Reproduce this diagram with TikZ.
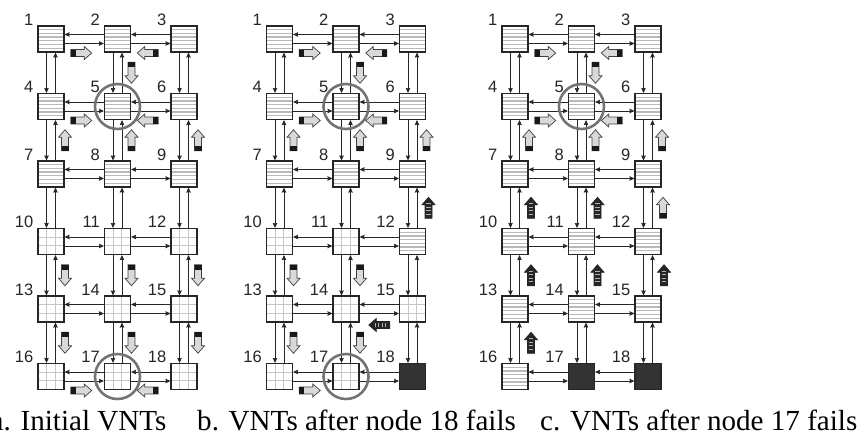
\documentclass[tikz,border=0pt]{standalone}
\usepackage{fontspec}
\setmainfont{Liberation Serif}
\newfontfamily\labelfont{Liberation Sans}
\usetikzlibrary{positioning, arrows.meta, calc}

\begin{document}
\begin{tikzpicture}[
    x=1pt, y=-1pt,
    vlabel/.style={font=\labelfont\fontsize{16.5}{16.5}\selectfont, text=black!85, inner sep=0pt, xshift=-4pt},
    vnt/.style={draw=black!85, line width=1.1pt, rectangle, minimum size=26pt, inner sep=0pt, fill=white,
        label={[vlabel]north west:#1}},
    kind0/.style={path picture={
        \foreach \s in {1,...,6}
            \draw[gray!55, line width=1.3pt] ([yshift=-\s*3.71pt]path picture bounding box.north west)
                -- ([yshift=-\s*3.71pt]path picture bounding box.north east);}},
    kind1/.style={path picture={
        \foreach \s in {1,2} {
            \draw[gray!45, line width=0.9pt] ($(path picture bounding box.north west)!\s/3!(path picture bounding box.south west)$)
                -- ($(path picture bounding box.north east)!\s/3!(path picture bounding box.south east)$);
            \draw[gray!45, line width=0.9pt] ($(path picture bounding box.north west)!\s/3!(path picture bounding box.north east)$)
                -- ($(path picture bounding box.south west)!\s/3!(path picture bounding box.south east)$);}}},
    kind2/.style={fill=black!80},
    link/.style={-{Stealth[length=5pt, width=4.5pt, inset=0.5pt]}, line width=0.9pt, black!85},
    ring/.style={circle, draw=black!55, line width=2.6pt, minimum size=45pt, inner sep=0pt},
    caption/.style={font=\fontsize{29.1}{32}\selectfont, inner sep=0pt, anchor=base west},
    vntshift/.pic={
        \filldraw[fill=gray!30, draw=black!75, line width=0.7pt]
            (-10.5,-3.5) -- (3,-3.5) -- (3,-6.5) -- (10.5,0) -- (3,6.5) -- (3,3.5) -- (-10.5,3.5) -- cycle;
        \fill[black!90] (-10.5,-3.5) rectangle (-5.5,3.5);
    },
    vntshiftdark/.pic={
        \filldraw[fill=black!85, draw=black!85, line width=0.7pt]
            (-10.5,-3.5) -- (3,-3.5) -- (3,-6.5) -- (10.5,0) -- (3,6.5) -- (3,3.5) -- (-10.5,3.5) -- cycle;
        \foreach \s in {-6.5,-3,0.5,4} \draw[gray!60, line width=0.8pt] (\s,-2.3) -- (\s,2.3);
    }
]

    \useasboundingbox (0,0) rectangle (861,437);

    \foreach \q/\p/\px in {1/a/51, 2/b/279.5, 3/c/515} {
        \foreach \n in {1,...,18} {
            \pgfmathtruncatemacro\row{(\n-1)/3}
            \pgfmathtruncatemacro\col{\n-1-3*\row}
            \pgfmathtruncatemacro\k{((\q==2 && \n==18) || (\q==3 && \n>16)) ? 2 : ((\n<10 || \q==3 || (\q==2 && \n==12)) ? 0 : 1)}
            \node[vnt=\n, kind\k] (\p\n) at ({\px+66.5*\col}, {39+67.5*\row}) {};
        }
    }

    \foreach \p in {a,b,c} {
        \foreach \lft/\rgt in {1/2,2/3,4/5,5/6,7/8,8/9,10/11,11/12,13/14,14/15,16/17,17/18} {
            \draw[link] ([yshift=4.5pt]\p\rgt.west) -- ([yshift=4.5pt]\p\lft.east);
            \draw[link] ([yshift=-4.5pt]\p\lft.east) -- ([yshift=-4.5pt]\p\rgt.west);
        }
        \foreach \na in {1,...,15} {
            \pgfmathtruncatemacro\nb{\na+3}
            \draw[link] ([xshift=-4.5pt]\p\na.south) -- ([xshift=-4.5pt]\p\nb.north);
            \draw[link] ([xshift=4.5pt]\p\nb.north) -- ([xshift=4.5pt]\p\na.south);
        }
    }

    \foreach \v in {a5, a17, b5, b17, c5}
        \node[ring] (ring\v) at (\v) {};

    \foreach \p in {a,b,c} {
        \pic at ($(\p1)!0.5!(\p2)+(-3,14)$) {vntshift};
        \pic[rotate=180] at ($(\p2)!0.5!(\p3)+(-3,14)$) {vntshift};
        \pic[rotate=-90] at ($(\p2)!0.5!(\p5)+(14,0)$) {vntshift};
        \pic at ($(\p4)!0.5!(\p5)+(-3,14)$) {vntshift};
        \pic[rotate=180] at ($(\p5)!0.5!(\p6)+(-3,14)$) {vntshift};
        \foreach \na/\nb in {4/7,5/8,6/9}
            \pic[rotate=90] at ($(\p\na)!0.5!(\p\nb)+(14,0)$) {vntshift};
    }

    \foreach \na/\nb in {10/13,11/14,12/15,13/16,14/17,15/18}
        \pic[rotate=-90] at ($(a\na)!0.5!(a\nb)+(14,0)$) {vntshift};
    \pic at ($(a16)!0.5!(a17)+(-3,14)$) {vntshift};
    \pic[rotate=180] at ($(a17)!0.5!(a18)+(-3,14)$) {vntshift};

    \pic[rotate=90] at ($(b9)!0.5!(b12)+(16,0)$) {vntshiftdark};
    \foreach \na/\nb in {10/13,11/14,13/16,14/17}
        \pic[rotate=-90] at ($(b\na)!0.5!(b\nb)+(14,0)$) {vntshift};
    \pic[rotate=180] at ($(b14)!0.5!(b15)+(0,16)$) {vntshiftdark};
    \pic at ($(b16)!0.5!(b17)+(-3,14)$) {vntshift};

    \foreach \na/\nb in {7/10,8/11,10/13,11/14,12/15,13/16}
        \pic[rotate=90] at ($(c\na)!0.5!(c\nb)+(16,0)$) {vntshiftdark};
    \pic[rotate=90] at ($(c9)!0.5!(c12)+(15,0)$) {vntshift};

    \node[caption] (capa) at (-9.5,430) {a. Initial VNTs};
    \node[caption] (capb) at (197,430) {b. VNTs after node 18 fails};
    \node[caption] (capc) at (540,430) {c. VNTs after node 17 fails};

\end{tikzpicture}
\end{document}
